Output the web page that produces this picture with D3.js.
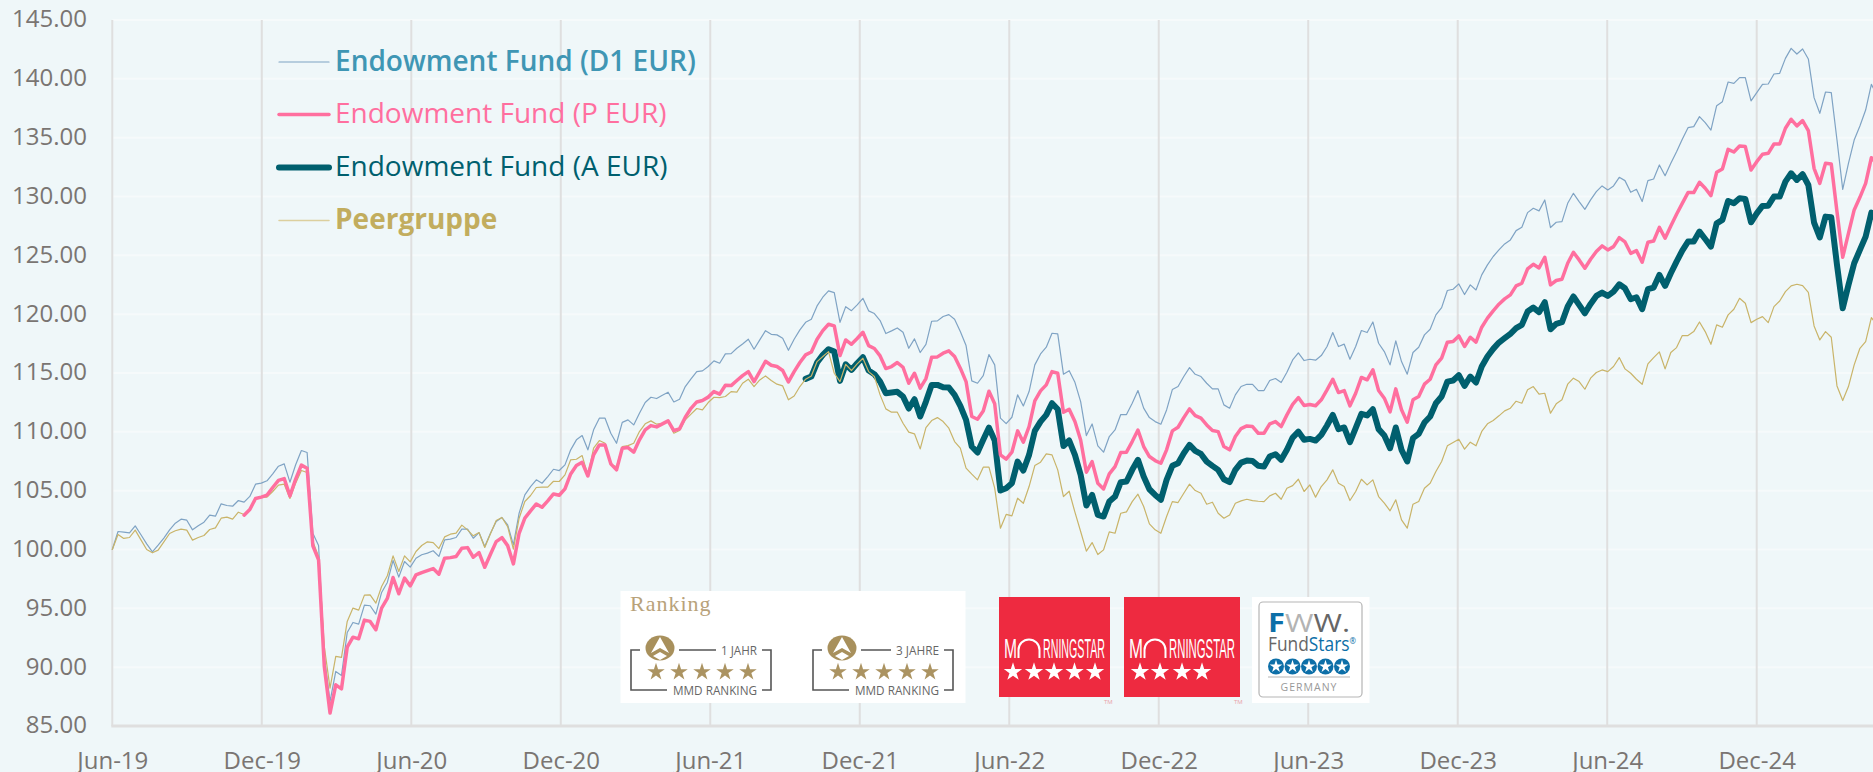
<!DOCTYPE html>
<html><head><meta charset="utf-8">
<script src="https://cdn.jsdelivr.net/npm/d3@7/dist/d3.min.js"></script>
<style>html,body{margin:0;padding:0;background:#eff7f9;overflow:hidden}svg{display:block}text{font-family:"Open Sans",sans-serif}</style>
</head><body><svg id="c" width="1873" height="772"></svg>
<script>
const xLabels=["Jun-19","Dec-19","Jun-20","Dec-20","Jun-21","Dec-21","Jun-22","Dec-22","Jun-23","Dec-23","Jun-24","Dec-24"];
const yTicks=[85,90,95,100,105,110,115,120,125,130,135,140,145];
const weeksPerLabel=26.09;
const lastWeek=308;
const d1Name="Endowment Fund (D1 EUR)",pName="Endowment Fund (P EUR)",aName="Endowment Fund (A EUR)",peerName="Peergruppe";
const d1First=0,pFirst=23,aFirst=121,peerFirst=0;
const d1Values=[100,101.53,101.48,101.42,102.01,101.25,100.48,99.8,100.37,100.97,
101.67,102.24,102.58,102.49,101.67,102.01,102.32,102.92,102.83,103.88,
103.74,103.68,104.16,104.02,104.51,105.55,105.64,105.84,106.43,107.08,
107.28,105.72,107.2,108.41,108.24,101.39,100.34,90.91,87.09,89.64,
89.3,92.95,93.8,93.66,95.27,95.22,94.51,96.35,97.2,99.07,
97.65,98.98,98.5,99.26,99.55,99.69,99.89,99.41,100.82,100.88,
101.02,101.73,101.73,100.96,101.44,100.25,101.39,102.38,102.72,102.09,
100.39,103.09,104.64,105.35,105.92,105.63,106.2,106.82,106.71,107.19,
108.47,109.32,109.68,108.47,110.17,111.16,111.16,109.88,109.03,110.8,
111.02,110.59,111.58,112.49,112.94,112.83,113.11,113.37,112.54,112.77,
113.85,114.5,115.12,115.18,115.55,116.03,115.83,116.62,116.65,117.1,
117.47,117.87,117.02,117.81,118.6,118.29,118.24,117.95,116.93,117.87,
118.66,119.31,119.57,120.7,121.44,121.98,121.83,119.31,120.64,120.3,
120.79,121.35,120.28,120.05,119.46,118.35,118.58,118.83,118.46,117.1,
117.9,116.74,117.44,119.4,119.43,119.8,119.96,119.57,118.52,117.33,
114.33,114.13,114.78,116.57,115.69,111.16,110.7,111.24,113.14,112.2,
113.42,115.69,116.62,117.19,118.38,118.32,114.9,115.2,114.21,112.57,
109.68,110.67,108.8,108.27,109.6,110.16,111.47,111.47,112.43,113.51,
112.01,111.21,110.87,110.65,111.86,113.59,113.85,114.7,115.46,114.89,
114.7,114.13,113.65,113.65,112.29,112.01,113.14,113.85,114.04,114.04,
113.51,113.51,114.36,114.53,114.19,115.06,116.11,116.71,116.06,116.17,
116.09,116.48,117.25,118.44,117.25,117.45,116.17,117.25,118.61,118.44,
119.34,117.53,116.82,115.69,117.73,115.97,114.9,116.74,117.19,118.24,
118.72,119.94,120.56,122.01,122.12,122.57,121.67,122.49,122.06,123.34,
124.19,124.9,125.46,125.97,126.31,127.1,127.39,128.63,129.0,128.78,
129.71,127.36,127.81,127.87,129.42,130.27,129.57,128.91,129.71,130.41,
130.9,130.56,130.9,131.63,131.35,130.36,130.61,129.57,131.35,131.49,
132.68,131.77,132.82,133.81,134.86,135.85,135.94,136.79,136.28,135.65,
137.72,138.06,139.73,139.62,140.1,140.1,138.12,138.83,139.53,139.56,
140.41,140.47,141.74,142.59,142.11,142.54,141.69,138.4,137.07,138.88,
138.83,134.8,130.61,132.82,134.8,135.99,137.35,139.53,138.6];
const pValues=[102.92,103.4,104.34,104.45,104.62,105.27,105.87,
106.03,104.56,105.98,107.17,106.91,100.31,99.12,90.06,86.1,88.5,
88.16,91.7,92.55,92.41,94.0,93.89,93.18,95.02,95.84,97.62,
96.24,97.57,96.91,97.84,98.04,98.21,98.38,97.9,99.26,99.31,
99.4,100.11,100.16,99.34,99.74,98.49,99.6,100.67,101.01,100.33,
98.78,101.38,102.66,103.28,103.87,103.59,104.13,104.72,104.61,105.15,
106.42,107.13,107.41,106.25,108.04,108.89,108.89,107.28,106.77,108.61,
108.66,108.27,109.32,110.17,110.53,110.42,110.68,110.93,110.11,110.25,
111.24,112.0,112.54,112.66,112.95,113.42,113.2,113.96,113.93,114.36,
114.78,115.12,114.27,115.12,116.0,115.66,115.55,115.21,114.24,115.12,
115.89,116.54,116.79,117.87,118.6,119.14,119.0,116.48,117.81,117.44,
117.93,118.46,117.33,117.08,116.45,115.38,115.55,115.89,115.49,114.13,
114.98,113.71,114.53,116.34,116.37,116.68,116.88,116.4,115.41,114.27,
111.3,111.07,111.78,113.45,112.38,108.04,107.68,108.27,110.08,109.12,
110.45,112.63,113.48,113.99,115.12,114.98,111.66,111.92,110.87,109.31,
106.57,107.47,105.63,105.15,106.43,107.05,108.24,108.27,109.17,110.16,
108.75,107.9,107.56,107.33,108.47,110.08,110.39,111.21,111.95,111.38,
111.16,110.59,110.11,110.02,108.75,108.47,109.6,110.28,110.5,110.45,
109.88,109.88,110.67,110.87,110.45,111.44,112.34,112.91,112.24,112.32,
112.21,112.72,113.57,114.47,113.34,113.51,112.21,113.28,114.62,114.42,
115.27,113.51,112.86,111.7,113.65,111.87,110.82,112.72,113.0,114.05,
114.47,115.69,116.26,117.62,117.67,118.15,117.25,118.04,117.62,118.89,
119.66,120.28,120.85,121.3,121.64,122.4,122.63,123.85,124.24,123.93,
124.84,122.49,122.86,122.97,124.33,125.26,124.61,123.9,124.67,125.32,
125.8,125.46,125.74,126.5,126.14,125.17,125.4,124.41,126.11,126.22,
127.38,126.45,127.5,128.49,129.42,130.33,130.33,131.21,130.7,130.07,
132.06,132.34,134.01,133.78,134.29,134.24,132.25,132.96,133.59,133.67,
134.46,134.46,135.8,136.56,136.0,136.45,135.6,132.4,131.12,132.82,
132.76,128.71,124.84,126.87,128.86,129.93,131.12,133.3,132.76];
const aValues=[114.5,114.7,115.89,116.54,117.02,116.82,114.33,115.74,115.26,
115.83,116.34,115.21,114.9,114.27,113.28,113.34,113.4,113.0,111.98,
112.77,111.3,112.57,113.99,113.99,113.79,113.76,113.14,112.2,111.02,
108.75,108.24,109.32,110.36,109.26,105.01,105.21,105.63,107.47,106.71,
108.04,110.08,110.87,111.44,112.43,111.92,108.8,109.26,108.04,106.34,
103.74,104.64,102.94,102.8,104.08,104.5,105.72,105.78,106.77,107.62,
106.2,105.12,104.64,104.22,105.92,107.11,107.33,108.18,108.89,108.38,
108.12,107.47,107.11,106.77,105.97,105.72,106.77,107.39,107.56,107.53,
107.11,107.05,107.9,108.1,107.62,108.47,109.51,110.02,109.32,109.4,
109.26,109.74,110.54,111.44,110.23,110.37,109.12,110.31,111.53,111.39,
111.92,110.23,109.69,108.61,110.37,108.47,107.48,109.46,109.83,110.79,
111.3,112.43,113.0,114.27,114.36,114.81,113.91,114.7,114.19,115.55,
116.4,117.05,117.59,117.96,118.33,118.81,119.09,120.22,120.56,120.17,
121.02,118.72,119.18,119.32,120.65,121.5,120.79,120.08,120.87,121.55,
121.83,121.55,121.92,122.54,122.2,121.27,121.44,120.42,122.12,122.26,
123.33,122.4,123.48,124.47,125.4,126.17,126.17,127.02,126.39,125.74,
127.72,128.01,129.62,129.42,129.85,129.79,127.81,128.57,129.2,129.22,
129.99,129.99,131.26,131.97,131.41,131.89,130.98,127.78,126.53,128.29,
128.23,124.18,120.5,122.48,124.33,125.46,126.59,128.63,128.0];
const peerValues=[100,101.28,100.94,101.02,101.65,100.82,100.0,99.72,99.95,100.65,
101.36,101.59,101.73,101.65,100.8,101.02,101.19,101.7,101.84,102.66,
102.75,102.58,103.17,102.98,103.37,104.31,104.42,104.45,104.93,105.47,
105.55,104.34,105.64,106.71,106.54,100.68,99.41,91.76,88.22,90.91,
90.83,93.89,95.02,94.85,96.12,96.15,95.44,96.86,97.77,99.46,
98.13,99.46,98.95,99.83,100.34,100.65,100.59,100.08,101.07,101.3,
101.39,102.07,101.67,101.16,101.44,100.17,101.33,102.46,102.72,101.95,
100.03,102.66,104.08,104.59,105.27,105.3,105.3,105.8,105.78,106.34,
107.62,107.67,107.98,106.34,108.61,109.26,109.03,107.19,107.05,108.75,
108.83,109.03,110.02,110.68,110.93,110.65,110.73,110.87,109.88,110.11,
111.02,111.5,111.98,111.87,112.49,112.94,112.91,113.0,113.42,113.37,
114.13,114.47,113.85,114.41,114.75,114.36,114.05,113.9,112.72,113.05,
113.85,114.47,114.75,115.97,116.4,116.82,114.98,114.27,115.74,115.21,
115.77,116.25,115.12,114.7,113.14,111.95,111.67,111.67,110.73,109.97,
109.83,108.55,110.36,110.96,111.21,110.87,110.31,109.17,108.61,106.91,
106.4,105.92,107.0,107.0,105.21,101.81,102.98,102.86,104.36,103.93,
105.35,107.13,107.42,108.13,108.04,106.77,104.5,104.95,103.17,101.53,
99.86,100.59,99.57,99.97,101.5,101.38,103.08,103.2,104.07,104.7,
103.65,102.18,101.67,101.38,102.8,104.07,103.99,104.78,105.55,105.01,
104.78,103.85,104.02,103.08,102.66,102.94,103.93,104.13,104.27,104.16,
104.1,104.07,104.56,104.78,104.27,105.21,105.43,105.97,104.93,105.49,
104.45,105.35,105.92,106.77,105.63,105.35,104.16,104.93,105.97,105.49,
105.92,104.5,103.94,103.29,104.22,102.52,101.81,103.85,104.08,105.21,
105.63,106.63,107.48,108.81,109.09,109.37,108.53,109.12,108.81,110.03,
110.68,110.96,111.36,111.78,112.01,112.6,112.43,113.57,113.85,113.2,
113.28,111.58,112.38,112.72,114.05,114.56,114.27,113.62,114.56,115.04,
115.26,115.12,115.55,116.31,115.35,114.98,114.47,114.04,115.77,116.31,
116.79,115.35,116.74,117.16,118.18,118.18,118.52,119.34,118.52,117.44,
119.09,118.89,119.94,120.42,121.35,120.93,119.28,119.57,119.79,119.28,
120.64,121.12,121.92,122.4,122.54,122.43,121.86,119.0,117.81,118.52,
118.04,113.9,112.66,113.85,115.69,117.1,117.67,119.71,119.09];

const svg=d3.select("#c");
const W=1873,H=772;
const x=d3.scaleLinear().domain([0,lastWeek]).range([112.3,1877.1]);
const y=d3.scaleLinear().domain([85,145]).range([726,20]);
svg.append("rect").attr("width",W).attr("height",H).attr("fill","#eff7f9");

// Horizontal grid
svg.append("g").selectAll("line").data(yTicks.slice(1)).join("line")
 .attr("x1",x(0)).attr("x2",W).attr("y1",d=>y(d)).attr("y2",d=>y(d))
 .attr("stroke","#f6fafb").attr("stroke-width",2);
// Vertical grid
svg.append("g").selectAll("line").data(xLabels).join("line")
 .attr("x1",(d,i)=>x(i*weeksPerLabel)).attr("x2",(d,i)=>x(i*weeksPerLabel)).attr("y1",20).attr("y2",726)
 .attr("stroke","#dfdfdf").attr("stroke-width",2);
svg.append("line").attr("x1",x(0)-1).attr("x2",W).attr("y1",y(85)).attr("y2",y(85)).attr("stroke","#dfdfdf").attr("stroke-width",3);

// Axes
const yAxis=d3.axisLeft(y).tickValues(yTicks).tickFormat(d3.format(".2f")).tickSize(0).tickPadding(0);
const yG=svg.append("g").attr("transform","translate(87,-0.7)").call(yAxis);
yG.select(".domain").remove();
yG.selectAll("text").attr("fill","#7a7572").style("font-size","24px").attr("dy","0.32em");
const xAxis=d3.axisBottom(x)
 .tickValues(xLabels.map((d,i)=>i*weeksPerLabel)).tickFormat((d,i)=>xLabels[i]).tickSize(0).tickPadding(0);
const xG=svg.append("g").attr("transform","translate(0,769)").call(xAxis);
xG.select(".domain").remove();
xG.selectAll("text").attr("fill","#7a7572").style("font-size","24px").attr("dy","0");

// Series
const line=d3.line().x(d=>x(d[0])).y(d=>y(d[1]));
const toPts=(vals,first)=>vals.map((v,k)=>[k+first,v]);
const draw=(vals,first,color,w)=>svg.append("path").datum(toPts(vals,first)).attr("d",line)
 .attr("fill","none").attr("stroke",color).attr("stroke-width",w).attr("stroke-linejoin","round").attr("stroke-linecap","round");
draw(d1Values,d1First,"#7fa3c4",1.2);
draw(aValues,aFirst,"#005f6e",6);
draw(peerValues,peerFirst,"#c9b469",1.2);
draw(pValues,pFirst,"#ff6f9f",3.5);

// Legend
const legend=[
 {name:d1Name,color:"#7fa3c4",txt:"#3f96b4",w:1.2,weight:600,y:62},
 {name:pName,color:"#ff6f9f",txt:"#ff6f9f",w:3.5,weight:400,y:114.5},
 {name:aName,color:"#005f6e",txt:"#005f6e",w:6,weight:400,y:167.5},
 {name:peerName,color:"#dccf9e",txt:"#c2ad5e",w:1.5,weight:700,y:220.5}];
const lg=svg.append("g");
legend.forEach(l=>{
 lg.append("line").attr("x1",279).attr("x2",329).attr("y1",l.y).attr("y2",l.y).attr("stroke",l.color).attr("stroke-width",l.w).attr("stroke-linecap","round");
 lg.append("text").attr("x",335).attr("y",l.y+8.5).attr("fill",l.txt).style("font-size","28px").style("font-weight",l.weight).text(l.name);
});

// Badges (decorative logos)
const star=(g,cx,cy,size,fill)=>g.append("path").attr("d",d3.symbol(d3.symbolStar,size)()).attr("transform",`translate(${cx},${cy})`).attr("fill",fill);
const b=svg.append("g");
b.append("rect").attr("x",620.5).attr("y",591).attr("width",345).attr("height",112).attr("fill","#fff");
b.append("text").attr("x",630).attr("y",611).attr("fill","#b8a27a").style("font-family","'Liberation Serif',serif").style("font-size","22px").attr("letter-spacing",1).text("Ranking");
[{dx:0,label:"1 JAHR",lineEnd:716,textW:36},{dx:182,label:"3 JAHRE",lineEnd:709,textW:43}].forEach(m=>{
 const g=b.append("g").attr("transform",`translate(${m.dx},0)`);
 g.append("path").attr("d",`M640,650H631V690H667 M762,690H771V650H762 M679,650H${m.lineEnd}`).attr("fill","none").attr("stroke","#555").attr("stroke-width",1.6);
 g.append("ellipse").attr("cx",660).attr("cy",648).attr("rx",14.5).attr("ry",12.5).attr("fill","#a8905c");
 g.append("path").attr("d","M660,637L669,653L660,648L651,653Z M660,652L667,656L660,660L653,656Z").attr("fill","#fff");
 [656,679,702,725,748].forEach(cx=>star(g,cx,672,95,"#ab9361"));
 g.append("text").attr("x",757-m.textW).attr("y",654.5).attr("fill","#666").style("font-size","12px").attr("textLength",m.textW).attr("lengthAdjust","spacingAndGlyphs").text(m.label);
 g.append("text").attr("x",673).attr("y",695).attr("fill","#666").style("font-size","12px").attr("textLength",84).attr("lengthAdjust","spacingAndGlyphs").text("MMD RANKING");
});
const ms=(x0,x1,stars,mEnd,arcCx,restX)=>{
 b.append("rect").attr("x",x0).attr("y",597).attr("width",x1-x0).attr("height",100).attr("fill","#ee2a40");
 const t=(tx,len,s)=>b.append("text").attr("x",tx).attr("y",658).attr("fill","#fff").style("font-family","'Liberation Sans Narrow','Liberation Sans',sans-serif").style("font-size","27px").attr("textLength",len).attr("lengthAdjust","spacingAndGlyphs").text(s);
 t(x0+5,mEnd-x0-5,"M");
 b.append("path").attr("d",`M${arcCx-10.5},658V650A10.5,10.5 0 0 1 ${arcCx+10.5},650V658`).attr("fill","none").attr("stroke","#fff").attr("stroke-width",2);
 t(restX,x1-5-restX,"RNINGSTAR");
 stars.forEach(cx=>star(b,cx,672,105,"#fff"));
 b.append("text").attr("x",x1-6).attr("y",704).attr("fill","#e9a0a8").style("font-size","6px").text("TM");
};
ms(999,1110,[1013,1034,1054,1074.5,1095],1017,1029,1043);
ms(1124,1240,[1140,1160,1182,1202],1143,1155,1169);
b.append("rect").attr("x",1252).attr("y",597).attr("width",117.5).attr("height",106).attr("fill","#fff");
b.append("rect").attr("x",1259).attr("y",602).attr("width",103).attr("height",95).attr("rx",4).attr("fill","#fff").attr("stroke","#b5b5b5").attr("stroke-width",1.2);
const fw=b.append("text").attr("x",1268).attr("y",632).style("font-size","26px").attr("textLength",82).attr("lengthAdjust","spacingAndGlyphs");
fw.append("tspan").attr("fill","#0d6fa8").style("font-weight",700).text("F");
fw.append("tspan").attr("fill","#b3b3b3").text("W");
fw.append("tspan").attr("fill","#666").text("W.");
const fs=b.append("text").attr("x",1268).attr("y",651).style("font-size","20px").attr("textLength",88).attr("lengthAdjust","spacingAndGlyphs");
fs.append("tspan").attr("fill","#666").text("Fund");
fs.append("tspan").attr("fill","#0d6fa8").text("Stars");
fs.append("tspan").attr("fill","#0d6fa8").attr("font-size","9px").attr("dy",-7).text("®");
[1276,1292.5,1309,1325.5,1342].forEach(cx=>{
 b.append("circle").attr("cx",cx).attr("cy",666.5).attr("r",8).attr("fill","#0d6fa8");
 star(b,cx,666.5,50,"#fff");
});
b.append("line").attr("x1",1268).attr("x2",1350).attr("y1",677).attr("y2",677).attr("stroke","#ccc").attr("stroke-width",1.5);
b.append("text").attr("x",1309).attr("y",691).attr("text-anchor","middle").attr("fill","#999").style("font-size","10.5px").attr("letter-spacing",1).text("GERMANY");
</script></body></html>
